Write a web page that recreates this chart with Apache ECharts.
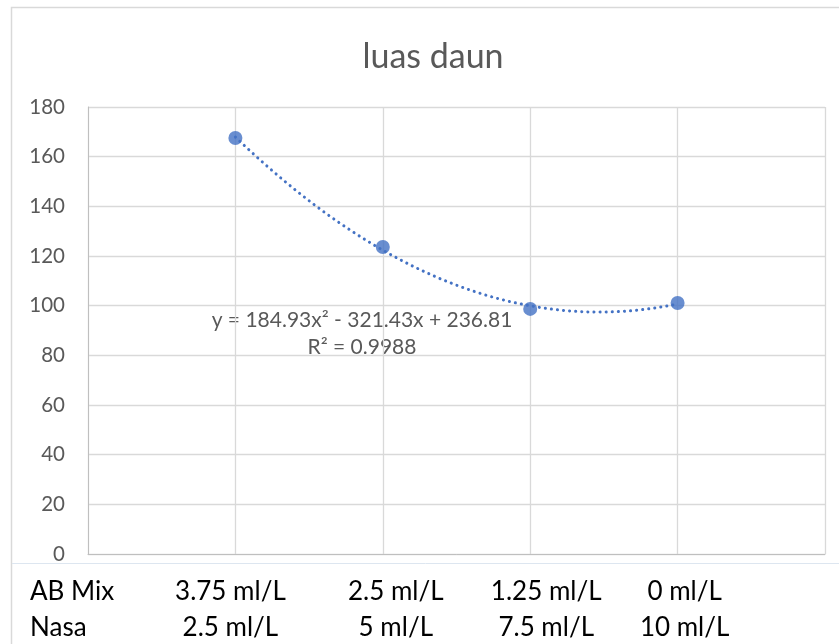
<!DOCTYPE html>
<html><head><meta charset="utf-8">
<script src="https://cdn.jsdelivr.net/npm/echarts@6/dist/echarts.min.js"></script>
<style>html,body{margin:0;padding:0;background:#fff}#c{width:839px;height:644px}</style>
</head><body><div id="c"></div>
<script>
const title = 'luas daun';
const xPos = [1, 2, 3, 4];
const luasDaun = [167.5, 123.6, 98.7, 101.1];
const rowHeaders = ['AB Mix', 'Nasa'];
const abMix = ['3.75 ml/L', '2.5 ml/L', '1.25 ml/L', '0 ml/L'];
const nasa = ['2.5 ml/L', '5 ml/L', '7.5 ml/L', '10 ml/L'];
const labelShift = [-5, 13, 16, 7];
const equation = 'y = 184.93x² - 321.43x + 236.81';
const rSquared = 'R² = 0.9988';

// least-squares quadratic fit of the data (trendline)
function quadFit(xs, ys) {
  let n = xs.length, s = [0,0,0,0,0], t = [0,0,0];
  for (let i = 0; i < n; i++) {
    let x = xs[i], y = ys[i];
    for (let k = 0; k < 5; k++) s[k] += Math.pow(x, k);
    for (let k = 0; k < 3; k++) t[k] += Math.pow(x, k) * y;
  }
  const A = [[s[0], s[1], s[2], t[0]], [s[1], s[2], s[3], t[1]], [s[2], s[3], s[4], t[2]]];
  for (let i = 0; i < 3; i++) {
    for (let j = i + 1; j < 3; j++) {
      const f = A[j][i] / A[i][i];
      for (let k = i; k < 4; k++) A[j][k] -= f * A[i][k];
    }
  }
  const c = [0,0,0];
  for (let i = 2; i >= 0; i--) {
    let v = A[i][3];
    for (let k = i + 1; k < 3; k++) v -= A[i][k] * c[k];
    c[i] = v / A[i][i];
  }
  return c;
}
const coef = quadFit(xPos, luasDaun);
const trend = [];
for (let i = 0; i <= 90; i++) {
  const x = xPos[0] + (xPos[xPos.length - 1] - xPos[0]) * i / 90;
  trend.push([x, coef[0] + coef[1] * x + coef[2] * x * x]);
}

const chart = echarts.init(document.getElementById('c'));
const gridLeft = 88, gridRight = 825;
const step = (gridRight - gridLeft) / 5;
const tableFont = '26px Lato';
const graphics = [
  {type: 'rect', shape: {x: 11.5, y: 7.5, width: 900, height: 800}, style: {fill: 'none', stroke: '#d9d9d9', lineWidth: 1.5}, silent: true},
  {type: 'line', shape: {x1: 12, y1: 563.5, x2: 839, y2: 563.5}, style: {stroke: '#dde6f0', lineWidth: 1}, silent: true},
  {type: 'text', x: 433, y: 57, style: {text: title, font: '34px Lato', fill: '#595959', align: 'center', verticalAlign: 'middle'}},
  {type: 'text', x: 30, y: 592, style: {text: rowHeaders[0], font: tableFont, fill: '#000', align: 'left', verticalAlign: 'middle'}},
  {type: 'text', x: 30, y: 628, style: {text: rowHeaders[1], font: tableFont, fill: '#000', align: 'left', verticalAlign: 'middle'}},
  {type: 'text', x: 362, y: 320, style: {text: equation, font: '21px Lato', fill: '#595959', align: 'center', verticalAlign: 'middle'}},
  {type: 'text', x: 362, y: 347, style: {text: rSquared, font: '21px Lato', fill: '#595959', align: 'center', verticalAlign: 'middle'}}
];
for (let i = 0; i < abMix.length; i++) {
  const cx = gridLeft + step * xPos[i] + labelShift[i];
  graphics.push({type: 'text', x: cx, y: 592, style: {text: abMix[i], font: tableFont, fill: '#000', align: 'center', verticalAlign: 'middle'}});
  graphics.push({type: 'text', x: cx, y: 628, style: {text: nasa[i], font: tableFont, fill: '#000', align: 'center', verticalAlign: 'middle'}});
}

chart.setOption({
  animation: false,
  backgroundColor: '#fff',
  grid: {left: gridLeft, right: 839 - gridRight, top: 107, bottom: 90, containLabel: false},
  xAxis: {type: 'value', min: 0, max: 5, interval: 1,
    axisLine: {show: true, lineStyle: {color: '#bfbfbf', width: 1}},
    axisTick: {show: false}, axisLabel: {show: false},
    splitLine: {show: true, lineStyle: {color: '#d9d9d9', width: 1.3}}},
  yAxis: {type: 'value', min: 0, max: 180, interval: 20,
    axisLine: {show: true, lineStyle: {color: '#bfbfbf', width: 1}},
    axisTick: {show: false},
    axisLabel: {fontFamily: 'Lato', fontSize: 20.5, color: '#595959', margin: 23},
    splitLine: {show: true, lineStyle: {color: '#d9d9d9', width: 1.3}}},
  graphic: graphics,
  series: [
    {type: 'line', data: trend, showSymbol: false, symbol: 'none', silent: true,
      lineStyle: {color: '#4472C4', width: 3, type: [0.1, 6], cap: 'round'}},
    {type: 'scatter', data: xPos.map((x, i) => [x, luasDaun[i]]), symbol: 'circle', symbolSize: 14,
      itemStyle: {color: '#4472C4'}}
  ]
});
</script></body></html>
